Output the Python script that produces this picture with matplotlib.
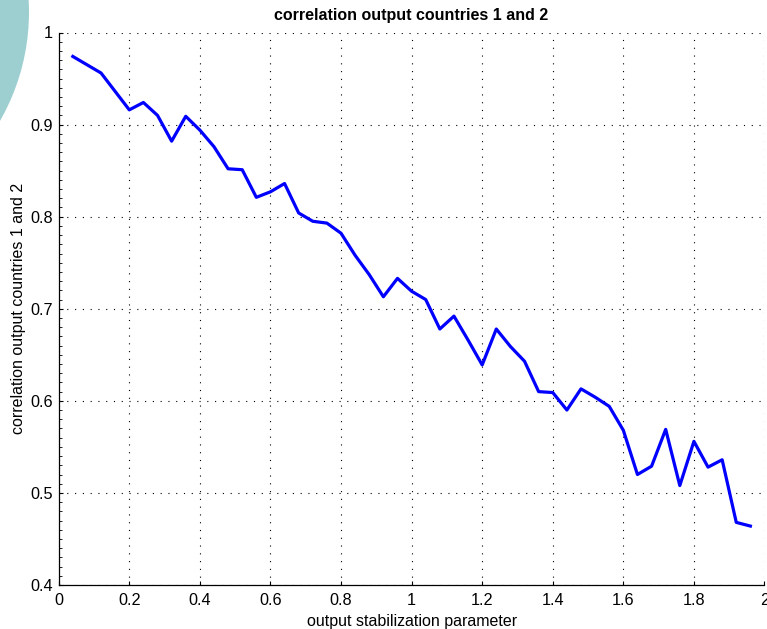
import numpy as np
import matplotlib
matplotlib.use("Agg")
import matplotlib.pyplot as plt
from matplotlib.patches import Ellipse
from matplotlib.ticker import FuncFormatter, MultipleLocator

# output stabilization parameter
stab_param = [0.04, 0.08, 0.12, 0.16, 0.20, 0.24, 0.28, 0.32, 0.36, 0.40,
              0.44, 0.48, 0.52, 0.56, 0.60, 0.64, 0.68, 0.72, 0.76, 0.80,
              0.84, 0.88, 0.92, 0.96, 1.00, 1.04, 1.08, 1.12, 1.16, 1.20,
              1.24, 1.28, 1.32, 1.36, 1.40, 1.44, 1.48, 1.52, 1.56, 1.60,
              1.64, 1.68, 1.72, 1.76, 1.80, 1.84, 1.88, 1.92, 1.96]
# correlation of output, countries 1 and 2
corr_output = [0.974, 0.965, 0.956, 0.936, 0.916, 0.924, 0.910, 0.882, 0.909, 0.894,
               0.876, 0.852, 0.851, 0.821, 0.827, 0.836, 0.804, 0.795, 0.793, 0.782,
               0.758, 0.737, 0.713, 0.733, 0.719, 0.710, 0.678, 0.692, 0.666, 0.639,
               0.678, 0.659, 0.643, 0.610, 0.609, 0.590, 0.613, 0.604, 0.594, 0.568,
               0.520, 0.529, 0.569, 0.508, 0.556, 0.528, 0.536, 0.468, 0.464]

x_ticks = [0, 0.2, 0.4, 0.6, 0.8, 1, 1.2, 1.4, 1.6, 1.8, 2]
y_ticks = [0.4, 0.5, 0.6, 0.7, 0.8, 0.9, 1]

plt.rcParams['font.family'] = ['Liberation Sans', 'DejaVu Sans']

fig = plt.figure(figsize=(7.67, 6.29), dpi=100)

# teal blob in the top left corner
fig.patches.append(Ellipse((-190 / 767, 617 / 629), 2 * 219 / 767, 2 * 219 / 629,
                           transform=fig.transFigure, facecolor='#9dcfd0',
                           edgecolor='none', zorder=0))

ax = fig.add_axes([58.7 / 767, 44 / 629, 705.8 / 767, 552.5 / 629])
ax.patch.set_alpha(0)

ax.plot(stab_param, corr_output, color='#0000ff', linewidth=2.3, zorder=3)

ax.set_xlim(0, 2)
ax.set_ylim(0.4, 1)
ax.set_xticks(x_ticks)
ax.set_yticks(y_ticks)
fmt = FuncFormatter(lambda v, p: '%g' % round(v, 2))
ax.xaxis.set_major_formatter(fmt)
ax.yaxis.set_major_formatter(fmt)
ax.yaxis.set_minor_locator(MultipleLocator(0.01))

ax.tick_params(which='major', direction='in', length=3, width=0.8,
               labelsize=11.7, top=False, right=False)
ax.tick_params(axis='x', pad=6)
ax.tick_params(axis='y', pad=4)
ax.tick_params(which='minor', axis='y', direction='in', length=2, width=0.6)

ax.grid(True, which='major', color='black', linestyle=(0, (1, 6)), linewidth=0.8)
for s in ['top', 'right']:
    ax.spines[s].set_visible(False)
for s in ['left', 'bottom']:
    ax.spines[s].set_linewidth(0.9)

ax.set_title('correlation output countries 1 and 2', fontsize=11.5,
             fontweight='bold', pad=9)
ax.set_xlabel('output stabilization parameter', fontsize=11.5, labelpad=4)
ax.set_ylabel('correlation output countries 1 and 2', fontsize=11.5, labelpad=3)

fig.savefig('out.png', dpi=100)
